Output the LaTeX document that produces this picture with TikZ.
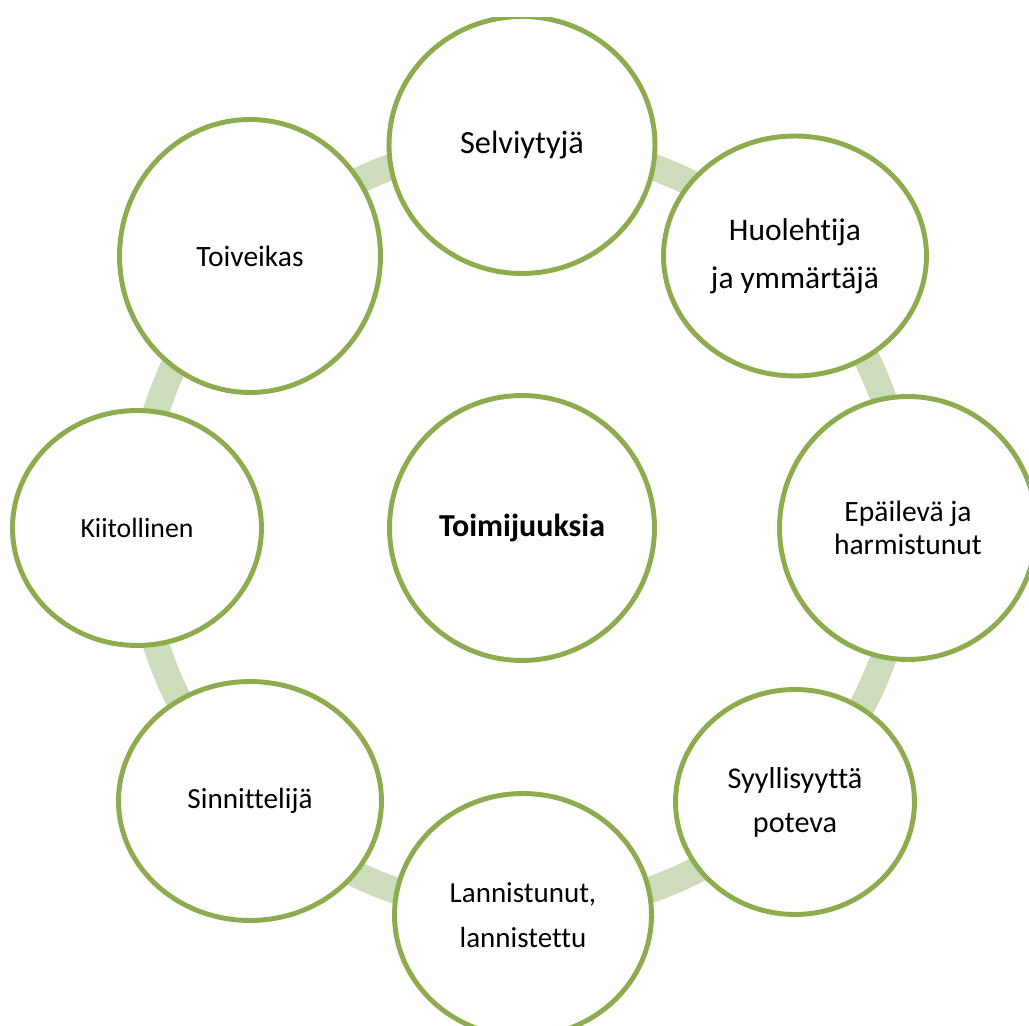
\documentclass[tikz,border=0pt]{standalone}
\usepackage{fontspec}
\setmainfont{Carlito}[Ligatures=NoCommon]
\usepackage{tikz}
\usetikzlibrary{shapes.geometric,positioning}
\definecolor{bubbleline}{RGB}{140,172,78}
\definecolor{ringband}{RGB}{205,220,186}

\begin{document}
\begin{tikzpicture}[
x=0.02cm,
y=-0.02cm,
bubble/.style={
  ellipse,
  draw=bubbleline,
  line width=2.8pt,
  fill=white,
  align=center,
  inner sep=0pt
  },
band/.style={
  draw=ringband,
  line width=15pt
  }
]
\useasboundingbox (0,0) rectangle (1029,1026);
\clip (0,18) rectangle (1029,1026);
\coordinate (mid) at (522,528);
\draw[band] (mid) circle[radius=7.68cm];
\node[bubble, minimum width=5.30cm, minimum height=5.30cm,
  font=\bfseries\fontsize{18.2}{22}\selectfont] (hub) at (mid) {Toimijuuksia};
\node[bubble, minimum width=5.32cm, minimum height=5.14cm,
  font=\fontsize{18.4}{22}\selectfont] (selv) at (522,145) {Selviytyjä};
\node[bubble, minimum width=5.26cm, minimum height=4.80cm,
  font=\fontsize{17.9}{27.2}\selectfont] (huol) at (795,256) {Huolehtija\\ja ymmärtäjä};
\node[bubble, minimum width=5.14cm, minimum height=5.26cm,
  font=\fontsize{16.8}{18.9}\selectfont] (epai) at (908,528) {Epäilevä ja\\harmistunut};
\node[bubble, minimum width=4.78cm, minimum height=4.50cm,
  font=\fontsize{17.2}{25}\selectfont] (syyl) at (795,802) {Syyllisyyttä\\poteva};
\node[bubble, minimum width=5.14cm, minimum height=4.86cm,
  font=\fontsize{16.5}{25.5}\selectfont] (lann) at (523,915) {Lannistunut,\\lannistettu};
\node[bubble, minimum width=5.26cm, minimum height=4.78cm,
  font=\fontsize{16.6}{20}\selectfont] (sinn) at (250,801) {Sinnittelijä};
\node[bubble, minimum width=4.98cm, minimum height=4.70cm,
  font=\fontsize{15.8}{19}\selectfont] (kiit) at (137,528) {Kiitollinen};
\node[bubble, minimum width=5.22cm, minimum height=5.46cm,
  font=\fontsize{16.8}{20}\selectfont] (toiv) at (250,256) {Toiveikas};
\end{tikzpicture}
\end{document}
